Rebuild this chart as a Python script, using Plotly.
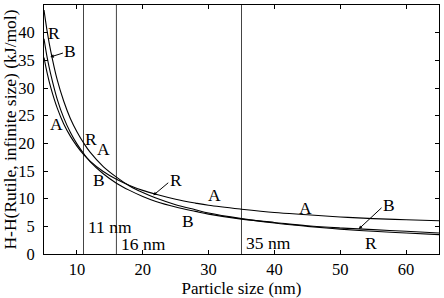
import plotly.graph_objects as go

# Particle size (nm)
size_nm = [5, 5.5, 6, 7, 8, 9, 10, 11, 12, 14, 16, 18, 20, 22, 25, 28, 30,
           35, 40, 45, 50, 55, 60, 65]
# Enthalpy relative to infinite rutile (kJ/mol)
rutile = [44.1, 40.1, 36.8, 31.5, 27.6, 24.5, 22.1, 20.1, 18.4, 15.8, 13.9,
          12.3, 11.1, 10.1, 8.9, 8.0, 7.4, 6.4, 5.6, 5.0, 4.5, 4.1, 3.8, 3.5]
anatase = [35.5, 32.6, 30.2, 26.4, 23.5, 21.3, 19.5, 18.0, 16.8, 14.9, 13.5,
           12.4, 11.5, 10.8, 9.9, 9.2, 8.8, 8.1, 7.5, 7.1, 6.7, 6.4, 6.2, 6.0]
brookite = [38.9, 35.4, 32.6, 28.0, 24.6, 22.0, 19.9, 18.2, 16.7, 14.5, 12.8,
            11.5, 10.4, 9.5, 8.5, 7.7, 7.2, 6.3, 5.7, 5.1, 4.7, 4.4, 4.1, 3.8]

crossovers = [11, 16, 35]
crossover_labels = ["11 nm", "16 nm", "35 nm"]
crossover_label_pos = [(11.4, 4.8), (16.4, 1.8), (35.4, 2.0)]

x_ticks = [10, 20, 30, 40, 50, 60]
y_ticks = [0, 5, 10, 15, 20, 25, 30, 35, 40, 45]

FONT = "Liberation Serif"
FS = 17.5
TICK_FS = 16.5

fig = go.Figure()
for v in crossovers:
    fig.add_trace(go.Scatter(x=[v, v], y=[0, 45], mode="lines",
                             line=dict(color="#444444", width=1),
                             showlegend=False, hoverinfo="skip"))
for ys in (rutile, anatase, brookite):
    fig.add_trace(go.Scatter(x=size_nm, y=ys, mode="lines",
                             line=dict(color="black", width=1.1, shape="spline"),
                             showlegend=False))

# curve labels: (text, x, y, arrow tip or None)
curve_labels = [
    ("R", 6.5, 40.0, None),
    ("B", 9.0, 36.7, (5.96, 35.6)),
    ("A", 6.9, 23.5, None),
    ("R", 12.1, 20.7, None),
    ("A", 14.1, 18.9, None),
    ("B", 13.3, 13.3, None),
    ("R", 25.0, 13.4, (21.6, 10.6)),
    ("A", 30.9, 10.6, None),
    ("B", 26.8, 5.9, None),
    ("A", 44.7, 8.4, None),
    ("B", 57.4, 8.9, (52.8, 4.5)),
    ("R", 54.6, 2.0, None),
]
for text, x, y, tip in curve_labels:
    fig.add_annotation(x=x, y=y, text=text, showarrow=False,
                       font=dict(family=FONT, size=FS, color="black"))
    if tip is not None:
        fig.add_annotation(x=tip[0], y=tip[1], ax=x - 0.9, ay=y - 0.3,
                           axref="x", ayref="y", text="", showarrow=True,
                           arrowhead=2, arrowsize=0.7, arrowwidth=1,
                           arrowcolor="black")

for t, (x, y) in zip(crossover_labels, crossover_label_pos):
    fig.add_annotation(x=x, y=y, text=t, showarrow=False, xanchor="left",
                       font=dict(family=FONT, size=FS, color="black"))

axis_common = dict(showline=True, linecolor="black", linewidth=1, mirror="ticks",
                   ticks="inside", ticklen=4, tickcolor="black", showgrid=False,
                   zeroline=False, tickfont=dict(family=FONT, size=TICK_FS, color="black"))

fig.update_xaxes(range=[5, 65], tickvals=x_ticks, ticklabelstandoff=0,
                 title=dict(text="Particle size (nm)",
                            font=dict(family=FONT, size=17, color="black"),
                            standoff=3),
                 **axis_common)
fig.update_yaxes(range=[0, 45], tickvals=y_ticks, ticklabelstandoff=5,
                 title=dict(text="H-H(Rutile, infinite size) (kJ/mol)",
                            font=dict(family=FONT, size=FS, color="black"),
                            standoff=2),
                 **axis_common)

fig.update_layout(width=444, height=298, margin=dict(l=44, r=4, t=5, b=40),
                  font=dict(family=FONT, size=FS, color="black"),
                  paper_bgcolor="white", plot_bgcolor="white")

fig.write_html("out.html")
